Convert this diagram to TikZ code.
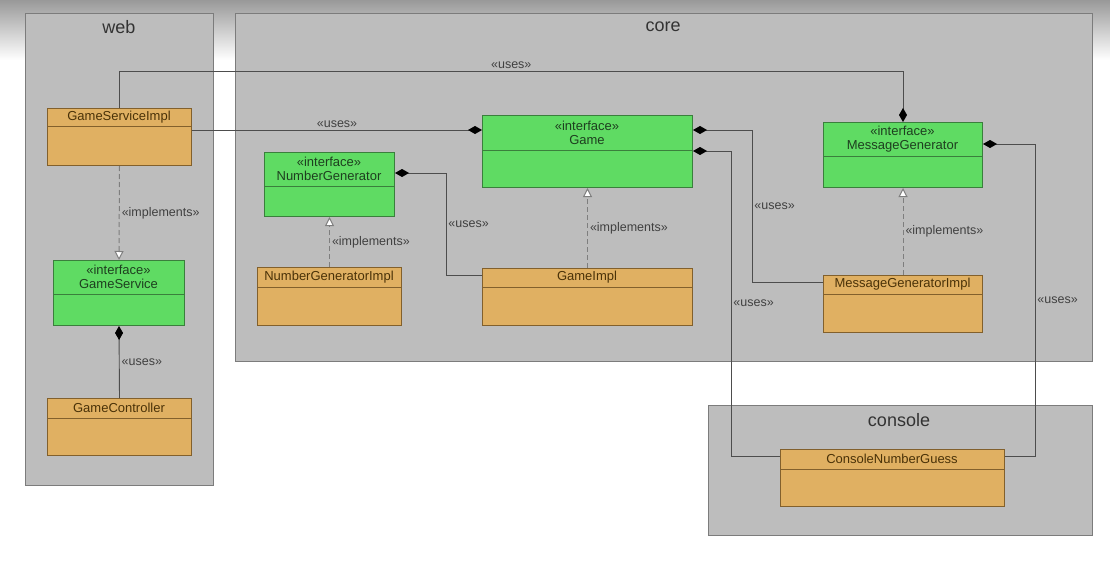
\documentclass[tikz,border=0pt]{standalone}
\usepackage{fontspec}
\setmainfont{Liberation Sans}
\usetikzlibrary{arrows.meta}

\definecolor{pkgfill}{HTML}{BDBDBD}
\definecolor{pkgline}{HTML}{7C7C7C}
\definecolor{ifill}{HTML}{5FDB63}
\definecolor{iline}{HTML}{3A7F3C}
\definecolor{itext}{HTML}{1E3F1F}
\definecolor{cfill}{HTML}{E0B062}
\definecolor{cline}{HTML}{82602C}
\definecolor{ctext}{HTML}{4A3208}
\definecolor{wire}{HTML}{4D4D4D}
\definecolor{dashgray}{HTML}{7E7E7E}

\begin{document}
\begin{tikzpicture}[x=1pt,y=-1pt,
    pkg/.style={draw=pkgline,fill=pkgfill,line width=1.2pt},
    pkgname/.style={font=\fontsize{18}{20}\selectfont,text=black!80},
    cls-i/.style={draw=iline,fill=ifill,line width=1pt},
    cls-c/.style={draw=cline,fill=cfill,line width=1pt},
    txt-i/.style={text=itext},
    txt-c/.style={text=ctext},
    uses/.style={draw=wire,line width=0.9pt,-{Diamond[length=14pt,width=8pt,fill=black,color=black]}},
    impl/.style={draw=dashgray,line width=1pt,dash pattern=on 5pt off 3pt,-{Triangle[open,length=9pt,width=9pt,fill=white]}},
    lbl/.style={font=\fontsize{12.5}{14}\selectfont,text=black!75,inner sep=2pt}]

\useasboundingbox (0,0) rectangle (1110,567);
\fill[white] (0,0) rectangle (1110,567);
\shade[top color=black!40,bottom color=white] (0,0) rectangle (1110,60);

\node[pkg,anchor=north west,minimum width=188,minimum height=472] (web) at (25,13) {};
\node[pkg,anchor=north west,minimum width=857,minimum height=348] (core) at (235,13) {};
\node[pkg,anchor=north west,minimum width=384,minimum height=130] (console) at (708,405) {};
\node[pkgname] (web-t) at (119,27) {web};
\node[pkgname] (core-t) at (663,27) {core};
\node[pkgname] (console-t) at (899,420) {console};

\foreach \n/\x/\y/\w/\h/\d/\k/\t in {
    gsi/47/108/144/57/19/c/GameServiceImpl,
    gs/53/260/131/65/34/i/{«interface»\\GameService},
    gc/47/398/144/57/20/c/GameController,
    ng/264/152/130/64/34/i/{«interface»\\NumberGenerator},
    ngi/257/267/144/58/20/c/NumberGeneratorImpl,
    game/482/115/210/72/35/i/{«interface»\\Game},
    gi/482/268/210/57/19/c/GameImpl,
    mg/823/122/159/65/34/i/{«interface»\\MessageGenerator},
    mgi/823/275/159/57/19/c/MessageGeneratorImpl,
    cng/780/449/224/57/20/c/ConsoleNumberGuess}{
  \node[cls-\k,anchor=north west,minimum width=\w,minimum height=\h] (\n) at (\x,\y) {};
  \draw[cls-\k,fill=none] (\x,\y+\d) -- (\x+\w,\y+\d);
  \node[txt-\k,align=center,font=\fontsize{13}{14}\selectfont] (\n-t) at (\x+\w/2,\y+\d/2) {\t};
}

\draw[uses] (gsi.north) -- ++(0,-37) -| (mg.north) node[lbl,pos=0.25,above] (l1) {«uses»};
\draw[uses] (gsi.east |- 0,130) -- (game.west |- 0,130) node[lbl,midway,above] (l2) {«uses»};
\draw[impl] (gsi.south) -- (gs.north) node[lbl,midway,right] (l3) {«implements»};
\draw[uses] (gc.north) -- (gs.south) node[lbl,midway,right] (l4) {«uses»};
\draw[impl] (ngi.north) -- (ng.south) node[lbl,midway,right] (l5) {«implements»};
\draw[uses] (gi.west |- 0,275) -- ++(-36,0) |- (ng.east |- 0,173) node[lbl,pos=0.25,right] (l6) {«uses»};
\draw[impl] (gi.north) -- (game.south) node[lbl,midway,right] (l7) {«implements»};
\draw[uses] (mgi.west |- 0,282) -- ++(-71,0) |- (game.east |- 0,130) node[lbl,pos=0.25,right] (l8) {«uses»};
\draw[uses] (cng.west |- 0,456) -- ++(-49,0) |- (game.east |- 0,151) node[lbl,pos=0.25,right] (l9) {«uses»};
\draw[impl] (mgi.north) -- (mg.south) node[lbl,midway,right] (l10) {«implements»};
\draw[uses] (cng.east |- 0,456) -- ++(30,0) |- (mg.east |- 0,144) node[lbl,pos=0.25,right] (l11) {«uses»};
\end{tikzpicture}
\end{document}
